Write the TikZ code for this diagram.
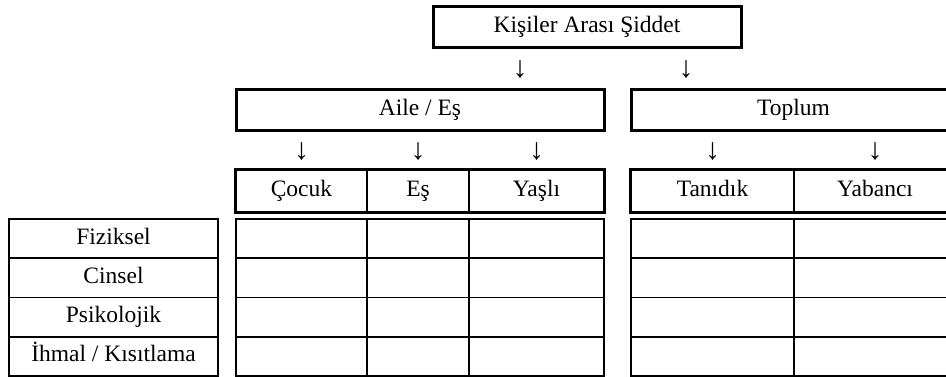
\documentclass[tikz,border=0pt]{standalone}
\usepackage{fontspec}
\setmainfont{Liberation Serif}
\begin{document}
\begin{tikzpicture}[x=1pt,y=-1pt,
  txt/.style={inner sep=0pt,text height=16pt,text depth=5pt,font=\fontsize{23.5}{27}\selectfont},
  hbox/.style={txt,draw=black,line width=3pt},
  hcell/.style={txt,draw=black,line width=1.4pt,minimum height=42pt},
  gcell/.style={txt,draw=black,line width=1.6pt,minimum height=39.25pt},
  arr/.style={inner sep=0pt,font=\fontsize{30}{32}\selectfont}]
\useasboundingbox (0,0) rectangle (946,376);
\clip (0,0) rectangle (946,376);
% top
\node[hbox,minimum width=308pt,minimum height=41pt] (top) at (587,26.5) {Kişiler Arası Şiddet};
\node[arr] (a1) at (520,70) {↓};
\node[arr] (a2) at (686,70) {↓};
% second level
\node[hbox,minimum width=368pt,minimum height=41pt] (aile) at (420,109.5) {Aile / Eş};
\node[hbox,minimum width=325pt,minimum height=41pt] (toplum) at (793.5,109.5) {Toplum};
\node[arr] (b1) at (301.5,152) {↓};
\node[arr] (b2) at (418,152) {↓};
\node[arr] (b3) at (536.5,152) {↓};
\node[arr] (b4) at (712.5,152) {↓};
\node[arr] (b5) at (875,152) {↓};
% third level
\node[hcell,minimum width=131pt] (cocuk) at (301.5,191) {Çocuk};
\node[hcell,minimum width=102pt] (es) at (418,191) {Eş};
\node[hcell,minimum width=135pt] (yasli) at (536.5,191) {Yaşlı};
\node[hcell,minimum width=163pt] (tanidik) at (712.5,191) {Tanıdık};
\node[hcell,minimum width=162pt] (yabanci) at (875,191) {Yabancı};
\draw[line width=3pt] (cocuk.north west) rectangle (yasli.south east);
\draw[line width=3pt] (tanidik.north west) rectangle (yabanci.south east);
% grid
\foreach \r/\y/\t in {1/238.6/{Fiziksel},2/277.9/{Cinsel},3/317.1/{Psikolojik},4/356.4/{İhmal / Kısıtlama}}{
  \node[gcell,minimum width=209pt] (lab\r) at (113.5,\y) {\t};
  \node[gcell,minimum width=131pt] (c\r) at (301.5,\y) {};
  \node[gcell,minimum width=102pt] (e\r) at (418,\y) {};
  \node[gcell,minimum width=135pt] (y\r) at (536.5,\y) {};
  \node[gcell,minimum width=163pt] (t\r) at (712.5,\y) {};
  \node[gcell,minimum width=162pt] (b\r) at (875,\y) {};
}
\end{tikzpicture}
\end{document}
